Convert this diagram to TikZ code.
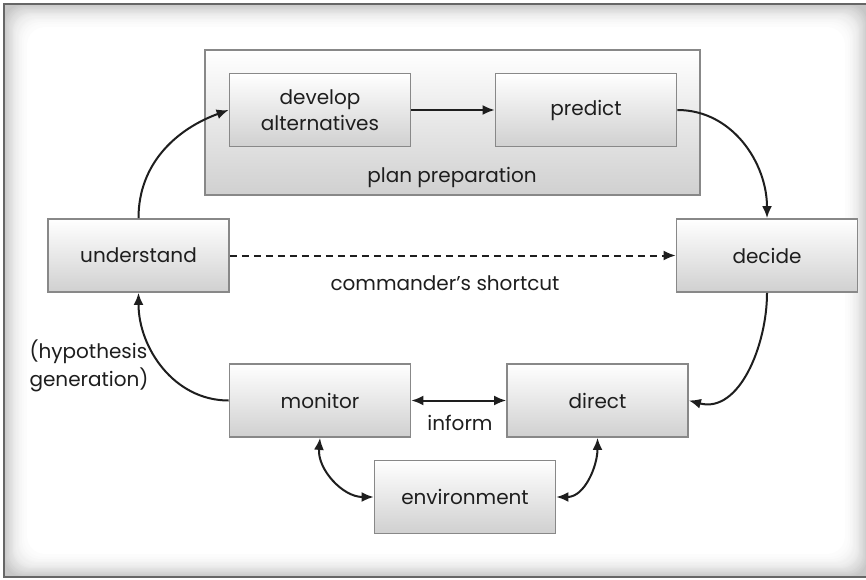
\documentclass[tikz,border=0pt]{standalone}
\usepackage{fontspec}
\setmainfont{Poppins}
\usetikzlibrary{arrows.meta}

\definecolor{boxline}{HTML}{888888}
\definecolor{boxbot}{HTML}{D0D0D0}
\definecolor{frameline}{HTML}{666666}
\definecolor{ink}{HTML}{1E1E1E}

\tikzset{
  stage/.style={draw=boxline, line width=1.8pt, top color=white, bottom color=boxbot,
    minimum width=181, minimum height=73, inner sep=0pt, align=center, text=ink,
    font=\fontsize{20}{26}\selectfont},
  label/.style={text=ink, font=\fontsize{20}{28}\selectfont},
  flow/.style={-{Latex[length=12pt,width=10pt]}, line width=2pt, ink},
  both/.style={{Latex[length=12pt,width=10pt]}-{Latex[length=12pt,width=10pt]}, line width=2pt, ink}
}

\begin{document}
\begin{tikzpicture}[x=1pt,y=1pt]
\useasboundingbox (0,0) rectangle (866,579);

% frame with inner shadow
\fill[black!22] (4,2) rectangle (868,575);
\foreach \i in {1,...,26}{
  \pgfmathtruncatemacro\shade{round(22*(1-\i/26)^2)}
  \fill[black!\shade, rounded corners=18] ({4+\i},{2+\i}) rectangle ({868-\i},{575-\i});
}
\draw[frameline, line width=1.8pt] (4,2) rectangle (868,575);

% plan preparation
\node[stage, minimum width=495, minimum height=145] (plan) at (452.5,456.5) {};
\node[label] (planlabel) at (452,402) {plan preparation};

\node[stage] (develop) at (320,469) {develop\\alternatives};
\node[stage] (predict) at (586,469) {predict};

\node[stage] (understand) at (138.5,323.5) {understand};
\node[stage] (decide) at (767,323.5) {decide};
\node[label] (shortcut) at (445,296) {commander’s shortcut};

\node[stage] (monitor) at (320,178.5) {monitor};
\node[stage] (direct) at (597.5,178.5) {direct};
\node[label] (inform) at (460,156) {inform};
\node[stage] (environment) at (465,82) {environment};

\node[label, align=left, anchor=west] (hypo) at (26,213) {(hypothesis\\generation)};

\draw[flow] (develop.east) -- (predict.west);
\draw[flow] (understand.north) to[out=90,in=200] (develop.west);
\draw[flow] (predict.east) to[out=0,in=90] (decide.north);
\draw[flow] (decide.south) to[out=-90,in=-15] (direct.east);
\draw[flow] (monitor.west) to[out=180,in=-90] (understand.south);
\draw[flow, dash pattern=on 7pt off 5pt] (understand.east) -- (decide.west);

\draw[both] (monitor.east) -- (direct.west);
\draw[both] (monitor.south) to[out=-95,in=180] (environment.west);
\draw[both] (direct.south) to[out=-90,in=0] (environment.east);

\end{tikzpicture}
\end{document}
